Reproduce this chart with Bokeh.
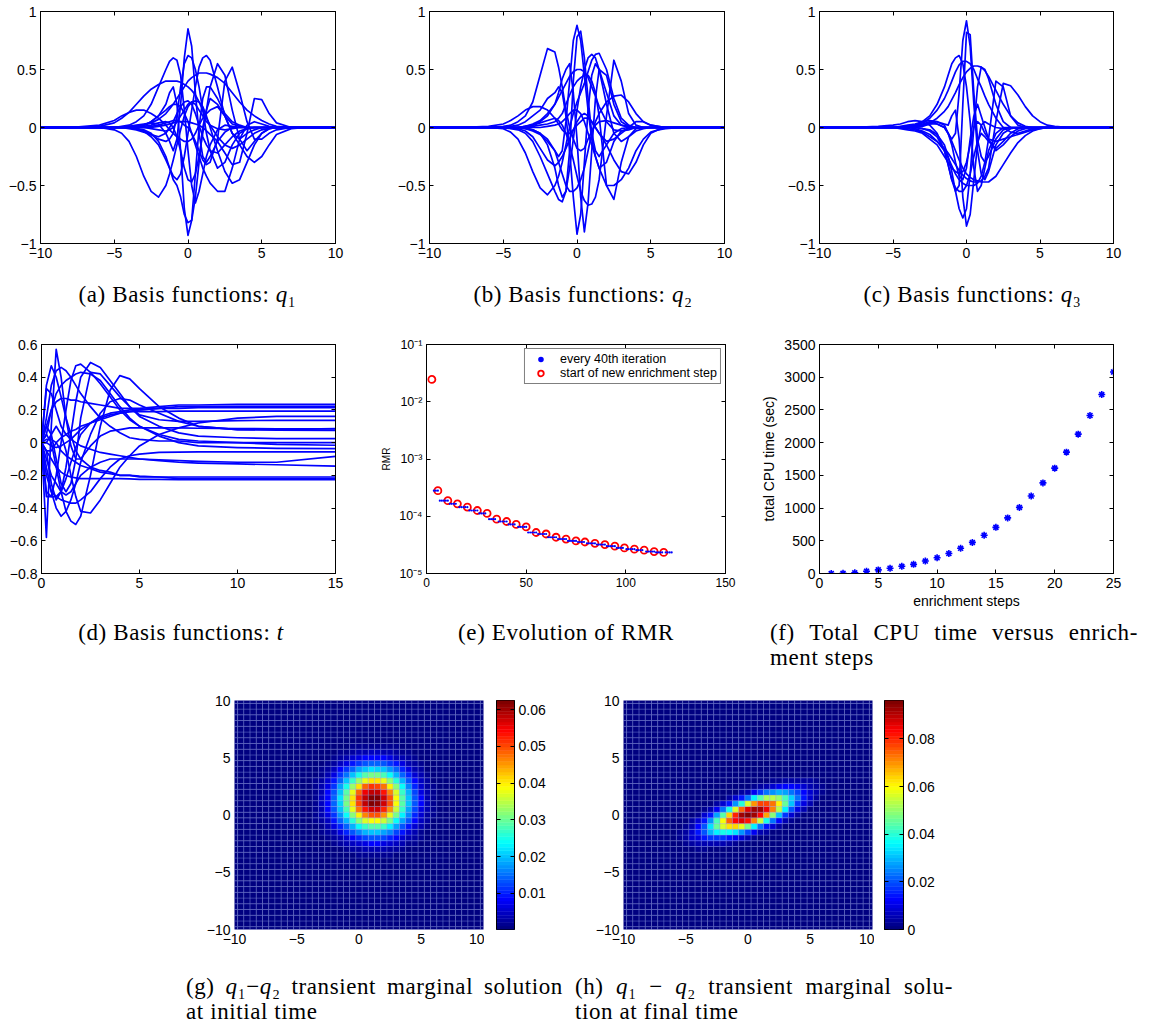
import numpy as np
from bokeh.plotting import figure
from bokeh.models import (Range1d, FixedTicker, CustomJSTickFormatter, LinearAxis, LogAxis,
                          Div, Spacer, Legend, LegendItem, ColumnDataSource)
from bokeh.layouts import row, column
from bokeh.transform import linear_cmap
from bokeh.embed import file_html
from bokeh.resources import INLINE

# ------------------------------------------------------------------ data
# sample positions of the basis functions in q (panels a, b, c)
q_grid = [-10, -8, -6, -5,
          -4.5, -4, -3.5, -3, -2.5, -2, -1.5,
          -1.25, -1, -0.75, -0.5, -0.25, 0, 0.25, 0.5, 0.75, 1, 1.25, 1.5,
          2, 2.5, 3, 3.5, 4, 4.5, 5, 5.5, 6,
          7, 8, 10]

q1_curves = [
    [0,0,0,0, 0,0.01,0.02,0.03,0.04,0.03,-0.05, -0.12,-0.2,-0.1,0.2,0.6,0.85,0.7,0.3,-0.05,-0.25,-0.3,-0.25, -0.12,-0.04,0,0,0,0,0,0,0, 0,0,0],
    [0,0,0,0, 0,0,0.01,0.02,0.05,0.1,0.2, 0.3,0.35,0.2,-0.2,-0.7,-0.93,-0.8,-0.4,0,0.25,0.35,0.35, 0.25,0.12,0.05,0.02,0,0,0,0,0, 0,0,0],
    [0,0,0,0, 0,0,-0.01,-0.02,-0.05,-0.12,-0.25, -0.35,-0.45,-0.5,-0.6,-0.75,-0.82,-0.8,-0.6,-0.3,0,0.15,0.25, 0.2,0.1,0.03,0.01,0,0,0,0,0, 0,0,0],
    [0,0,0,0, 0.01,0.02,0.05,0.1,0.2,0.35,0.5, 0.57,0.6,0.58,0.45,0.15,-0.2,-0.5,-0.65,-0.55,-0.4,-0.25,-0.15, -0.02,0.02,0.01,0,0,0,0,0,0, 0,0,0],
    [0,0,0,0, 0,0,-0.01,-0.03,-0.06,-0.1,-0.12, -0.1,-0.05,0.1,0.35,0.55,0.62,0.6,0.5,0.35,0.15,-0.05,-0.2, -0.35,-0.3,-0.15,-0.05,-0.01,0,0,0,0, 0,0,0],
    [0,0,0,0, 0,0,-0.01,-0.03,-0.08,-0.15,-0.28, -0.35,-0.42,-0.45,-0.4,-0.25,-0.05,0.15,0.35,0.52,0.6,0.62,0.58, 0.35,0.1,-0.05,-0.1,-0.05,-0.02,0,0,0, 0,0,0],
    [0,0,0,0, 0,0,0,0.01,0.02,0.04,0.05, 0.04,0,-0.08,-0.2,-0.35,-0.45,-0.47,-0.4,-0.25,-0.05,0.15,0.35, 0.55,0.45,0.15,-0.1,-0.2,-0.12,-0.05,-0.01,0, 0,0,0],
    [0,0,0,0, 0,0,0,0,0.01,0.02,0.04, 0.05,0.06,0.06,0.05,0.02,0,-0.05,-0.12,-0.2,-0.28,-0.32,-0.3, -0.1,0.4,0.52,0.3,0.05,-0.1,-0.1,-0.05,-0.02, 0,0,0],
    [0,0,0.01,0.04, 0.08,0.13,0.2,0.27,0.33,0.37,0.4, 0.4,0.4,0.4,0.39,0.37,0.35,0.32,0.28,0.22,0.15,0.08,0.02, -0.08,-0.15,-0.18,-0.15,-0.1,-0.05,-0.02,-0.01,0, 0,0,0],
    [0,0,0,0, 0,0.01,0.01,0.02,0.04,0.07,0.12, 0.16,0.2,0.25,0.3,0.35,0.4,0.43,0.45,0.47,0.47,0.47,0.46, 0.43,0.38,0.3,0.22,0.15,0.1,0.06,0.03,0.01, 0,0,0],
    [0,0,0,0, 0,0,0,0,0,0.01,0.02, 0.03,0.04,0.05,0.05,0.05,0.05,0.04,0.03,0.02,0,-0.03,-0.06, -0.12,-0.22,-0.32,-0.3,-0.05,0.25,0.24,0.12,0.04, 0,0,0],
    [0,0,0,-0.02, -0.05,-0.12,-0.25,-0.42,-0.55,-0.6,-0.5, -0.4,-0.28,-0.15,-0.02,0.1,0.18,0.22,0.2,0.15,0.1,0.05,0.02, -0.01,-0.02,-0.01,0,0,0,0,0,0, 0,0,0],
    [0,0,0,0, 0,0,0.01,0.02,0.05,0.1,0.15, 0.18,0.2,0.2,0.18,0.12,0.05,-0.05,-0.15,-0.25,-0.35,-0.42,-0.48, -0.55,-0.55,-0.35,-0.1,0.02,0.05,0.03,0.01,0, 0,0,0],
    [0,0,0.02,0.06, 0.1,0.13,0.15,0.15,0.12,0.08,0.02, -0.02,-0.05,-0.08,-0.1,-0.12,-0.12,-0.1,-0.05,0.02,0.08,0.12,0.15, 0.18,0.1,-0.05,-0.15,-0.25,-0.3,-0.25,-0.15,-0.06, -0.01,0,0],
    [0,0,0,0, 0,0,0,0,-0.01,-0.02,-0.03, -0.02,0,0.05,0.1,0.15,0.2,0.22,0.23,0.22,0.18,0.1,0, -0.2,-0.38,-0.48,-0.45,-0.3,-0.15,-0.05,-0.01,0, 0,0,0],
    [0,0,0,0, 0,-0.01,-0.02,-0.04,-0.06,-0.08,-0.05, 0,0.05,0.12,0.18,0.22,0.23,0.2,0.12,0.02,-0.08,-0.15,-0.2, -0.22,-0.15,-0.08,-0.03,-0.01,0,0,0,0, 0,0,0],
]

q2_curves = [
    [0,0,0,0.01, 0.02,0.05,0.1,0.22,0.45,0.68,0.65, 0.52,0.35,0.15,0,-0.1,-0.18,-0.2,-0.18,-0.1,-0.03,0.02,0.05, 0.06,0.04,0.02,0.01,0,0,0,0,0, 0,0,0],
    [0,0,0,0, 0,0,-0.01,-0.03,-0.06,-0.12,-0.2, -0.25,-0.2,0.05,0.4,0.75,0.88,0.75,0.45,0.15,-0.1,-0.25,-0.35, -0.3,-0.12,-0.03,-0.01,0,0,0,0,0, 0,0,0],
    [0,0,0,0, 0,0,0,-0.02,-0.05,-0.15,-0.35, -0.5,-0.6,-0.55,-0.2,0.4,0.78,0.83,0.6,0.25,-0.05,-0.2,-0.25, -0.15,-0.05,-0.01,0,0,0,0,0,0, 0,0,0],
    [0,0,0,0, 0.01,0.02,0.05,0.1,0.15,0.25,0.3, 0.35,0.3,0.1,-0.2,-0.6,-0.92,-0.75,-0.3,0.15,0.45,0.55,0.5, 0.3,0.1,0.02,0,0,0,0,0,0, 0,0,0],
    [0,0,0,0, 0,0,0.01,0.03,0.06,0.12,0.2, 0.3,0.42,0.5,0.55,0.3,-0.1,-0.6,-0.9,-0.65,-0.2,0.25,0.5, 0.45,0.2,0.05,0.01,0,0,0,0,0, 0,0,0],
    [0,0,0,0, -0.01,-0.02,-0.05,-0.12,-0.25,-0.4,-0.55, -0.62,-0.64,-0.55,-0.35,-0.1,0.15,0.35,0.5,0.6,0.63,0.6,0.5, 0.2,-0.05,-0.12,-0.08,-0.03,-0.01,0,0,0, 0,0,0],
    [0,0,0,-0.01, -0.04,-0.1,-0.22,-0.38,-0.52,-0.58,-0.5, -0.42,-0.3,-0.15,0,0.12,0.22,0.3,0.38,0.48,0.58,0.63,0.64, 0.5,0.25,0.08,0.02,0,0,0,0,0, 0,0,0],
    [0,0,0,0, 0,0,0.01,0.02,0.04,0.06,0.08, 0.06,0.02,-0.05,-0.15,-0.28,-0.42,-0.55,-0.63,-0.67,-0.66,-0.6,-0.45, 0.1,0.58,0.4,0.12,0.02,0,0,0,0, 0,0,0],
    [0,0,0,0, 0,0,0,0.01,0.02,0.03,0.05, 0.08,0.12,0.2,0.28,0.35,0.4,0.43,0.45,0.45,0.4,0.3,0.1, -0.5,-0.62,-0.3,-0.08,-0.01,0,0,0,0, 0,0,0],
    [0,0,0,0, 0,0,-0.01,-0.02,-0.05,-0.1,-0.2, -0.3,-0.4,-0.5,-0.55,-0.55,-0.52,-0.45,-0.35,-0.2,-0.05,0.05,0.12, 0.22,0.27,0.28,0.22,0.12,0.05,0.02,0.01,0, 0,0,0],
    [0,0,0,0, 0,0,0,0,0,0.01,0.02, 0.03,0.05,0.08,0.12,0.15,0.15,0.12,0.05,-0.05,-0.15,-0.25,-0.35, -0.5,-0.5,-0.45,-0.35,-0.2,-0.1,-0.04,-0.02,-0.01, 0,0,0],
    [0,0,0.01,0.03, 0.06,0.1,0.15,0.18,0.18,0.15,0.08, 0.03,-0.02,-0.05,-0.05,-0.02,0.02,0.05,0.08,0.08,0.05,0,-0.05, -0.15,-0.28,-0.38,-0.4,-0.3,-0.15,-0.05,-0.02,0, 0,0,0],
    [0,0,0,0, 0,0,0.01,0.02,0.05,0.1,0.2, 0.26,0.32,0.38,0.44,0.48,0.5,0.5,0.48,0.43,0.35,0.27,0.18, 0.05,-0.02,-0.03,-0.02,0,0,0,0,0, 0,0,0],
    [0,0,0,0, 0,-0.01,-0.03,-0.08,-0.18,-0.28,-0.33, -0.3,-0.25,-0.18,-0.1,-0.02,0.05,0.1,0.12,0.1,0.05,0,-0.05, -0.12,-0.1,-0.05,0,0.05,0.05,0.02,0.01,0, 0,0,0],
]

q3_curves = [
    [0,0,0,0, 0,0,0.01,0.02,0.03,0.03,0, -0.05,-0.1,-0.05,0.3,0.75,0.92,0.7,0.2,-0.2,-0.4,-0.45,-0.38, -0.15,-0.05,-0.01,0,0,0,0,0,0, 0,0,0],
    [0,0,0,0, 0,0,0,-0.01,-0.03,-0.08,-0.2, -0.32,-0.45,-0.55,-0.5,0.2,0.82,0.8,0.3,-0.1,-0.25,-0.3,-0.25, -0.1,-0.02,0,0,0,0,0,0,0, 0,0,0],
    [0,0,0,0, 0.01,0.02,0.03,0.05,0.06,0.05,0.03, 0.02,0.1,0.15,-0.1,-0.6,-0.85,-0.75,-0.45,-0.15,0.02,0.05,0.03, 0,-0.01,0,0,0,0,0,0,0, 0,0,0],
    [0,0,0,0, 0,0,0,-0.01,-0.02,-0.06,-0.15, -0.25,-0.38,-0.55,-0.7,-0.78,-0.7,-0.4,0,0.35,0.52,0.5,0.42, 0.2,0.05,0,-0.01,0,0,0,0,0, 0,0,0],
    [0,0,0,0, 0,0.01,0.02,0.05,0.1,0.2,0.35, 0.45,0.55,0.6,0.62,0.55,0.35,0.05,-0.35,-0.55,-0.5,-0.35,-0.2, -0.05,0,0,0,0,0,0,0,0, 0,0,0],
    [0,0,0,0, 0,0.01,0.02,0.04,0.08,0.15,0.25, 0.32,0.4,0.48,0.54,0.57,0.57,0.55,0.5,0.42,0.35,0.27,0.2, 0.08,0,-0.04,-0.05,-0.03,-0.01,0,0,0, 0,0,0],
    [0,0,0,0, 0,0,0.01,0.02,0.04,0.08,0.14, 0.18,0.24,0.3,0.37,0.43,0.48,0.51,0.53,0.53,0.52,0.49,0.44, 0.32,0.2,0.1,0.04,0.01,0,0,0,0, 0,0,0],
    [0,0,0,0, 0,-0.01,-0.02,-0.04,-0.08,-0.12,-0.2, -0.26,-0.33,-0.4,-0.45,-0.48,-0.5,-0.5,-0.5,-0.48,-0.42,-0.3,-0.1, 0.4,0.35,0.1,0.02,0,0,0,0,0, 0,0,0],
    [0,0,0,0, 0,0,-0.01,-0.03,-0.06,-0.12,-0.18, -0.22,-0.27,-0.32,-0.37,-0.41,-0.44,-0.46,-0.47,-0.47,-0.46,-0.42,-0.35, 0.05,0.38,0.36,0.28,0.18,0.1,0.05,0.02,0.01, 0,0,0],
    [0,0,0,0, 0,0,0.01,0.03,0.05,0.03,0, -0.05,-0.12,-0.2,-0.28,-0.35,-0.4,-0.43,-0.45,-0.46,-0.47,-0.47,-0.47, -0.42,-0.32,-0.22,-0.13,-0.07,-0.03,-0.01,0,0, 0,0,0],
    [0,0,0.01,0.02, 0.03,0.05,0.06,0.05,0.02,-0.05,-0.2, -0.32,-0.45,-0.52,-0.55,-0.55,-0.5,-0.4,-0.25,-0.12,-0.05,-0.08,-0.12, -0.18,-0.12,-0.05,-0.01,0,0,0,0,0, 0,0,0],
    [0,0,0,0, 0,0,0,0.01,0.03,0.05,0.02, -0.05,-0.15,-0.3,-0.42,-0.45,-0.35,-0.1,0.1,0.2,0.1,0,-0.1, -0.2,-0.15,-0.08,-0.03,-0.01,0,0,0,0, 0,0,0],
    [0,0,0,0, -0.01,-0.02,-0.03,-0.05,-0.1,-0.15,-0.25, -0.3,-0.35,-0.38,-0.4,-0.38,-0.3,-0.15,0,0.05,0.02,-0.05,-0.1, -0.12,-0.1,-0.08,-0.06,-0.04,-0.02,-0.01,0,0, 0,0,0],
]

# sample positions of the basis functions in t (panel d)
t_grid = [0, 0.25, 0.5, 0.75, 1, 1.25, 1.5, 1.75, 2, 2.5, 3, 3.5, 4, 4.5, 5, 6, 7, 8, 10, 12, 15]

t_curves = [
    [0,-0.58,0.1,0.57,0.4, 0.15,-0.02,-0.1,-0.1,-0.02, 0.04,0.07,0.08,0.09,0.09, 0.09,0.09,0.088,0.086,0.085,0.085],
    [0,0.35,0.47,0.4,0.28, 0.15,0.05,-0.05,-0.1,-0.15, -0.17,-0.18,-0.2,-0.2,-0.21, -0.21,-0.22,-0.22,-0.22,-0.22,-0.22],
    [0,0.15,0.35,0.44,0.46, 0.44,0.4,0.35,0.3,0.22, 0.15,0.1,0.06,0.03,0.02, 0.01,0.01,0,0,0,0],
    [0,-0.3,-0.33,-0.2,0, 0.2,0.38,0.47,0.48,0.43, 0.36,0.28,0.2,0.14,0.1, 0.05,0.02,0.01,0,-0.01,-0.016],
    [0,-0.05,-0.25,-0.35,-0.3, -0.15,0.05,0.25,0.4,0.49, 0.46,0.38,0.3,0.22,0.16, 0.1,0.06,0.04,0.03,0.025,0.024],
    [0,0.1,0.05,-0.1,-0.25, -0.3,-0.25,-0.1,0.15,0.43, 0.42,0.35,0.28,0.22,0.17, 0.14,0.13,0.13,0.135,0.136,0.136],
    [0,0.05,0,-0.15,-0.3, -0.42,-0.48,-0.5,-0.45,-0.2, 0.1,0.32,0.41,0.39,0.33, 0.22,0.15,0.1,0.08,0.077,0.075],
    [0,0,0.05,0.1,0.05, -0.05,-0.2,-0.33,-0.42,-0.43, -0.35,-0.25,-0.15,-0.08,-0.02, 0.05,0.09,0.12,0.15,0.16,0.16],
    [0,-0.2,-0.3,-0.33,-0.35, -0.36,-0.37,-0.37,-0.35,-0.3, -0.22,-0.15,-0.1,-0.08,-0.07, -0.06,-0.058,-0.057,-0.057,-0.057,-0.057],
    [0,0.1,0.2,0.25,0.27, 0.27,0.26,0.26,0.25,0.24, 0.23,0.22,0.21,0.21,0.21, 0.22,0.23,0.23,0.234,0.234,0.234],
    [0,-0.05,-0.05,0,0.03, 0.05,0.07,0.08,0.1,0.12, 0.14,0.16,0.18,0.19,0.2, 0.21,0.22,0.22,0.222,0.222,0.222],
    [0,-0.33,-0.33,-0.33,-0.3, -0.22,-0.12,-0.03,0.05,0.12, 0.16,0.18,0.19,0.2,0.2, 0.21,0.21,0.214,0.214,0.214,0.214],
    [0,0,-0.02,-0.03,-0.02, 0,0.02,0.05,0.08,0.12, 0.15,0.17,0.18,0.19,0.19, 0.19,0.193,0.193,0.193,0.193,0.193],
    [0,0.02,0.02,0,-0.05, -0.08,-0.1,-0.12,-0.14,-0.16, -0.18,-0.19,-0.2,-0.2,-0.205, -0.21,-0.21,-0.21,-0.21,-0.21,-0.21],
    [0,0.33,0.3,0.2,0.1, 0.05,0.02,0,-0.02,-0.04, -0.06,-0.07,-0.08,-0.09,-0.1, -0.11,-0.12,-0.125,-0.13,-0.135,-0.143],
    [0,-0.1,-0.2,-0.25,-0.3, -0.32,-0.3,-0.25,-0.2,-0.15, -0.12,-0.1,-0.1,-0.1,-0.1, -0.105,-0.11,-0.115,-0.12,-0.12,-0.084],
    [0,0.05,0.2,0.3,0.35, 0.38,0.4,0.42,0.43,0.42, 0.38,0.3,0.22,0.15,0.1, 0.04,0,-0.02,-0.03,-0.035,-0.037],
    [0,-0.15,-0.3,-0.4,-0.45, -0.42,-0.35,-0.25,-0.12,0.05, 0.18,0.25,0.27,0.26,0.23, 0.18,0.13,0.1,0.08,0.08,0.086],
    [0,-0.05,-0.1,-0.15,-0.18, -0.2,-0.21,-0.215,-0.22,-0.22, -0.22,-0.22,-0.22,-0.222,-0.224, -0.225,-0.226,-0.226,-0.226,-0.226,-0.226],
]

# panel e: RMR at the start of each enrichment step
rmr_iter = [2.7, 5.7, 10.7, 15.5, 20.5, 25.5, 30.4, 35.2, 40.2, 45.0, 50.0, 55.0, 60.0,
            65.0, 70.0, 75.0, 79.5, 84.5, 89.5, 94.5, 99.3, 104.3, 109.2, 114.2, 119.0]
rmr_val = [2.45e-2, 2.8e-4, 1.87e-4, 1.65e-4, 1.44e-4, 1.26e-4, 1.12e-4, 8.9e-5, 8.1e-5,
           7.2e-5, 6.5e-5, 5.2e-5, 4.9e-5, 4.3e-5, 4.0e-5, 3.7e-5, 3.55e-5, 3.37e-5,
           3.2e-5, 3.0e-5, 2.8e-5, 2.66e-5, 2.56e-5, 2.42e-5, 2.33e-5]
rmr_last_iter = 123.0

# panel f: total CPU time
cpu_steps = list(range(1, 26))
cpu_time = [0, 3, 10, 35, 55, 80, 110, 140, 190, 240, 305, 385, 475, 585, 705, 850,
            1010, 1185, 1385, 1610, 1855, 2130, 2415, 2735, 3080]

# panels g, h: marginal densities (units of 1e-3) on a 0.5 grid window
g_x0, g_y0 = -3.5, -3.5          # lower-left node of the window
g_vals = [
    [0,0,0,0,1,1,1,2,2,2,2,2,2,1,1,1,0,0,0,0],
    [0,0,1,1,1,2,3,3,4,4,4,4,3,3,2,1,1,1,0,0],
    [0,1,1,2,3,4,5,6,7,8,8,7,6,5,4,2,2,1,1,0],
    [1,1,2,3,4,6,8,10,12,13,13,12,10,8,6,4,3,2,1,0],
    [1,2,3,4,7,10,13,16,19,20,20,18,16,12,9,6,4,2,1,1],
    [1,2,4,7,10,14,19,24,27,29,29,27,23,18,13,9,6,4,2,1],
    [2,3,5,9,14,19,26,32,37,39,39,36,31,24,18,13,8,5,3,1],
    [2,4,7,11,17,24,32,40,46,49,49,45,38,31,23,16,10,6,3,2],
    [2,4,8,13,20,28,38,47,53,57,57,52,45,36,27,18,12,7,4,2],
    [2,5,8,14,21,31,41,50,58,62,61,57,49,39,29,20,13,8,4,2],
    [2,5,8,14,22,31,41,51,58,62,62,57,49,39,29,20,13,8,4,2],
    [2,4,8,13,20,29,38,48,55,58,58,53,46,37,27,19,12,7,4,2],
    [2,4,7,11,18,25,33,41,48,51,50,47,40,32,24,16,10,6,3,2],
    [2,3,6,9,14,20,27,33,38,41,41,38,32,26,19,13,8,5,3,1],
    [1,2,4,7,11,15,20,25,29,31,31,28,24,19,14,10,6,4,2,1],
    [1,2,3,5,8,11,14,18,20,22,21,20,17,14,10,7,4,3,1,1],
    [1,1,2,3,5,7,9,11,13,14,14,13,11,9,7,4,3,2,1,0],
    [0,1,1,2,3,4,6,7,8,8,8,8,7,5,4,3,2,1,1,0],
    [0,0,1,1,2,2,3,4,4,5,5,4,4,3,2,2,1,1,0,0],
    [0,0,0,1,1,1,2,2,2,2,2,2,2,2,1,1,1,0,0,0],
]
h_x0, h_y0 = -5.5, -3.0
h_vals = [
    [1,1,1,3,3,1,1,1,1,0,0,0,0,0,0,0,0,0,0,0,0,0,0,0],
    [1,3,4,5,6,6,6,5,4,3,1,1,0,0,0,0,0,0,0,0,0,0,0,0],
    [3,4,8,10,14,17,18,18,15,12,8,5,3,1,0,0,0,0,0,0,0,0,0,0],
    [3,4,8,14,21,29,35,38,37,34,26,19,12,6,4,1,0,0,0,0,0,0,0,0],
    [1,3,6,13,21,34,46,57,63,64,58,48,36,24,14,8,4,1,0,0,0,0,0,0],
    [0,1,4,8,15,26,43,60,75,84,87,82,71,55,38,23,13,6,3,1,0,0,0,0],
    [0,0,1,3,8,15,28,45,64,81,92,95,93,84,68,49,31,18,9,4,1,0,0,0],
    [0,0,0,1,3,5,12,23,38,57,75,87,93,92,85,71,53,35,20,10,5,1,1,0],
    [0,0,0,0,0,1,4,8,15,26,40,57,70,78,78,73,61,46,31,18,10,5,1,1],
    [0,0,0,0,0,0,1,1,4,8,15,24,35,45,52,54,51,43,32,23,14,8,4,1],
    [0,0,0,0,0,0,0,0,1,1,4,6,12,17,23,26,29,28,24,19,13,8,5,3],
    [0,0,0,0,0,0,0,0,0,0,0,1,3,4,6,9,12,13,13,12,9,6,4,3],
    [0,0,0,0,0,0,0,0,0,0,0,0,0,1,1,3,3,4,4,4,4,4,3,1],
    [0,0,0,0,0,0,0,0,0,0,0,0,0,0,0,0,0,1,1,1,1,1,1,1],
]
g_range = (0.0002, 0.0625)
h_range = (0.0, 0.0961)
g_cb_ticks = [0.01, 0.02, 0.03, 0.04, 0.05, 0.06]
h_cb_ticks = [0, 0.02, 0.04, 0.06, 0.08]

# ------------------------------------------------------------------ style helpers
AX_FONT = "Liberation Sans"
BLUE = "#0000ff"
MINUS_JS = "return String(tick).replace('-', '\u2212');"
EMPTY_JS = "return '';"
LOG_JS = """
const e = Math.round(Math.log10(tick));
const m = {'-': '\u207b', '0': '\u2070', '1': '\u00b9', '2': '\u00b2', '3': '\u00b3', '4': '\u2074', '5': '\u2075'};
return '10' + String(e).split('').map(c => m[c]).join('');
"""


def jet_palette(n=64):
    cols = []
    for i in range(n):
        x = i / (n - 1)
        r = min(max(1.5 - abs(4 * x - 3), 0), 1)
        g = min(max(1.5 - abs(4 * x - 2), 0), 1)
        b = min(max(1.5 - abs(4 * x - 1), 0), 1)
        cols.append("#%02x%02x%02x" % (int(round(r * 255)), int(round(g * 255)), int(round(b * 255))))
    return cols


JET = jet_palette(64)


def base_fig(width, height, bl, br, bt, bb, xr, yr, y_type="linear", **kw):
    p = figure(width=width, height=height, x_range=Range1d(*xr), y_range=Range1d(*yr),
               y_axis_type=y_type, output_backend="svg", toolbar_location=None,
               min_border_left=bl, min_border_right=br, min_border_top=bt, min_border_bottom=bb, **kw)
    p.grid.visible = False
    p.outline_line_color = "black"
    p.outline_line_width = 1
    p.background_fill_color = "white"
    p.border_fill_color = "white"
    return p


def style_axis(ax, ticks, fs="14px", labels=True, tick_len=4, log=False):
    ax.ticker = FixedTicker(ticks=ticks)
    ax.major_tick_in = tick_len
    ax.major_tick_out = 0
    ax.minor_tick_in = 0
    ax.minor_tick_out = 0
    ax.axis_line_color = "black"
    ax.major_tick_line_color = "black"
    ax.major_label_text_font = AX_FONT
    ax.major_label_text_color = "black"
    if labels:
        ax.formatter = CustomJSTickFormatter(code=LOG_JS if log else MINUS_JS)
        ax.major_label_text_font_size = fs
        ax.major_label_standoff = 4
    else:
        ax.formatter = CustomJSTickFormatter(code=EMPTY_JS)
        ax.major_label_text_font_size = "1px"
        ax.major_label_standoff = 0


def add_mirror(p, xticks, yticks, log_y=False):
    top = LinearAxis()
    style_axis(top, xticks, labels=False)
    p.add_layout(top, "above")
    right = LogAxis() if log_y else LinearAxis()
    style_axis(right, yticks, labels=False)
    p.add_layout(right, "right")


def label_style(ax, text, fs):
    ax.axis_label = text
    ax.axis_label_text_font = AX_FONT
    ax.axis_label_text_font_size = fs
    ax.axis_label_text_font_style = "normal"
    ax.axis_label_text_color = "black"
    ax.axis_label_standoff = 4


def curve_fig(width, bl, br, curves):
    p = base_fig(width, 275, bl, br, 11, 32, (-10, 10), (-1, 1))
    p.multi_line(xs=[q_grid] * len(curves), ys=curves, line_color=BLUE, line_width=1.7,
                 line_join="round")
    xt, yt = [-10, -5, 0, 5, 10], [-1, -0.5, 0, 0.5, 1]
    style_axis(p.below[0], xt)
    style_axis(p.left[0], yt)
    add_mirror(p, xt, yt)
    return p


# ------------------------------------------------------------------ row 1
fa = curve_fig(390, 40, 55, q1_curves)
fb = curve_fig(390, 39, 56, q2_curves)
fc = curve_fig(378, 39, 45, q3_curves)

# ------------------------------------------------------------------ row 2
fd = base_fig(372, 287, 41, 37, 14, 44, (0, 15), (-0.8, 0.6))
fd.multi_line(xs=[t_grid] * len(t_curves), ys=t_curves, line_color=BLUE, line_width=1.7,
              line_join="round")
dxt = [0, 5, 10, 15]
dyt = [-0.8, -0.6, -0.4, -0.2, 0, 0.2, 0.4, 0.6]
style_axis(fd.below[0], dxt)
style_axis(fd.left[0], dyt)
add_mirror(fd, dxt, dyt)

fe = base_fig(383, 287, 54, 30, 14, 44, (0, 150), (1e-5, 1e-1), y_type="log")
dot_x, dot_y = [], []
prev = rmr_iter[0]
for xi, vi in zip(rmr_iter[1:], rmr_val[1:]):
    for xx in np.arange(prev + 1.0, xi + 0.01, 1.0):
        dot_x.append(float(xx))
        dot_y.append(vi)
    prev = xi
for xx in np.arange(rmr_iter[-1] + 1.0, rmr_last_iter + 0.01, 1.0):
    dot_x.append(float(xx))
    dot_y.append(rmr_val[-1])
r_circ = fe.scatter(rmr_iter, rmr_val, marker="circle", size=7, fill_color=None,
                    line_color="#ff0000", line_width=1.8)
r_dots = fe.scatter(dot_x, dot_y, marker="circle", size=2.2, fill_color=BLUE, line_color=None)
ext = [0, 50, 100, 150]
eyt = [1e-5, 1e-4, 1e-3, 1e-2, 1e-1]
style_axis(fe.below[0], ext, fs="12px")
style_axis(fe.left[0], eyt, fs="12.5px", log=True)
label_style(fe.left[0], "RMR", "10px")
add_mirror(fe, ext, eyt, log_y=True)
legend = Legend(items=[LegendItem(label="every 40th iteration", renderers=[r_dots]),
                       LegendItem(label="start of new enrichment step", renderers=[r_circ])],
                location="top_right")
legend.border_line_color = "black"
legend.border_line_width = 1
legend.background_fill_alpha = 1
legend.label_text_font = AX_FONT
legend.label_text_font_size = "12.5px"
legend.label_text_color = "black"
legend.padding = 3
legend.spacing = 0
legend.margin = 4
legend.glyph_width = 25
legend.glyph_height = 14
legend.label_height = 14
legend.label_standoff = 7
fe.add_layout(legend)

ff = base_fig(403, 287, 64, 45, 11, 44, (0, 25), (0, 3500))
ff.scatter(cpu_steps, cpu_time, marker="asterisk", size=7, line_color=BLUE, line_width=1.6)
fxt = [0, 5, 10, 15, 20, 25]
fyt = [0, 500, 1000, 1500, 2000, 2500, 3000, 3500]
style_axis(ff.below[0], fxt)
style_axis(ff.left[0], fyt)
label_style(ff.below[0], "enrichment steps", "14px")
label_style(ff.left[0], "total CPU time (sec)", "14px")
ff.below[0].axis_label_standoff = 2
add_mirror(ff, fxt, fyt)


# ------------------------------------------------------------------ row 3
def heat_source(x0, y0, mat):
    lookup = {}
    for r, rowv in enumerate(mat):
        for c, v in enumerate(rowv):
            lookup[(round(x0 + 0.5 * c, 2), round(y0 + 0.5 * r, 2))] = v
    nodes = [round(-10 + 0.5 * k, 2) for k in range(41)]
    xs, ys, vs = [], [], []
    for yy in nodes:
        for xx in nodes:
            xs.append(xx)
            ys.append(yy)
            vs.append(lookup.get((xx, yy), 0) * 1e-3)
    return ColumnDataSource(dict(x=xs, y=ys, v=vs))


def heat_fig(width, bl, br, bt, bb, src, lo, hi):
    p = base_fig(width, 279, bl, br, bt, bb, (-10, 10), (-10, 10))
    p.outline_line_color = None
    p.rect(x="x", y="y", width=0.5, height=0.5, source=src,
           fill_color=linear_cmap("v", JET, lo, hi), line_color="#8a9ae8",
           line_alpha=0.42, line_width=0.7)
    t = [-10, -5, 0, 5, 10]
    style_axis(p.below[0], t, tick_len=0)
    style_axis(p.left[0], t, tick_len=0)
    p.below[0].axis_line_color = None
    p.left[0].axis_line_color = None
    return p


def cbar_fig(width, bl, br, bt, bb, lo, hi, ticks):
    p = figure(width=width, height=279, x_range=Range1d(0, 1), y_range=Range1d(lo, hi),
               x_axis_location=None, y_axis_location="right", output_backend="svg",
               toolbar_location=None, min_border_left=bl, min_border_right=br,
               min_border_top=bt, min_border_bottom=bb)
    p.grid.visible = False
    p.outline_line_color = "black"
    edges = np.linspace(lo, hi, len(JET) + 1)
    p.quad(left=0, right=1, bottom=list(edges[:-1]), top=list(edges[1:]),
           fill_color=JET, line_color=JET, line_width=0.5)
    style_axis(p.right[0], ticks)
    left = LinearAxis()
    style_axis(left, ticks, labels=False)
    p.add_layout(left, "left")
    return p


fg = heat_fig(290, 40, 1, 24, 25, heat_source(g_x0, g_y0, g_vals), *g_range)
cb1 = cbar_fig(76, 12, 46, 25, 25, g_range[0], g_range[1], g_cb_ticks)
fh = heat_fig(314, 63, 2, 21, 25, heat_source(h_x0, h_y0, h_vals), *h_range)
cb2 = cbar_fig(76, 10, 47, 21, 25, h_range[0], h_range[1], h_cb_ticks)

# ------------------------------------------------------------------ captions
CAP_STYLE = ("position:relative;width:1158px;height:{h}px;font-family:'Liberation Serif','Times New Roman',serif;"
             "font-size:23px;color:#000;letter-spacing:0.6px;")

Q1 = "<i>q</i>\u2081"
Q2 = "<i>q</i>\u2082"
Q3 = "<i>q</i>\u2083"


def centered(center, top, html):
    return ('<div style="position:absolute;left:%.1fpx;top:%.1fpx;width:360px;text-align:center;'
            'white-space:nowrap;line-height:24px;">%s</div>' % (center - 180, top, html))


def justified(left, top, width, words):
    spans = "".join("<span>%s</span>" % w for w in words)
    return ('<div style="position:absolute;left:%.1fpx;top:%.1fpx;width:%dpx;display:flex;'
            'justify-content:space-between;white-space:nowrap;line-height:24px;">%s</div>'
            % (left, top, width, spans))


def plain(left, top, html):
    return ('<div style="position:absolute;left:%.1fpx;top:%.1fpx;white-space:nowrap;'
            'line-height:24px;">%s</div>' % (left, top, html))


cap1_html = ('<div style="%s">' % CAP_STYLE.format(h=55)
             + centered(187.5, 8, "(a) Basis functions: " + Q1)
             + centered(583, 8, "(b) Basis functions: " + Q2)
             + centered(972.5, 8, "(c) Basis functions: " + Q3)
             + "</div>")
cap2_html = ('<div style="%s">' % CAP_STYLE.format(h=58)
             + centered(181, 4, "(d) Basis functions: <i>t</i>")
             + centered(566, 4, "(e) Evolution of RMR")
             + justified(770, 4, 368, ["(f)", "Total", "CPU", "time", "versus", "enrich-"])
             + plain(770, 29, "ment steps")
             + "</div>")
cap3_html = ('<div style="%s">' % CAP_STYLE.format(h=72)
             + justified(186, 21, 377, ["(g)", Q1 + "\u2212" + Q2, "transient", "marginal", "solution"])
             + plain(186, 46, "at initial time")
             + justified(575, 21, 378, ["(h)", Q1, "\u2212", Q2, "transient", "marginal", "solu-"])
             + plain(575, 46, "tion at final time")
             + "</div>")

cap1 = Div(text=cap1_html, width=1158, height=55, margin=0)
cap2 = Div(text=cap2_html, width=1158, height=58, margin=0)
cap3 = Div(text=cap3_html, width=1158, height=72, margin=0)

layout = column(
    row(fa, fb, fc),
    cap1,
    row(fd, fe, ff),
    cap2,
    row(Spacer(width=194, height=279), fg, cb1, fh, cb2),
    cap3,
)

open("out.html", "w").write(file_html(layout, INLINE, title="Basis functions and RMR"))
